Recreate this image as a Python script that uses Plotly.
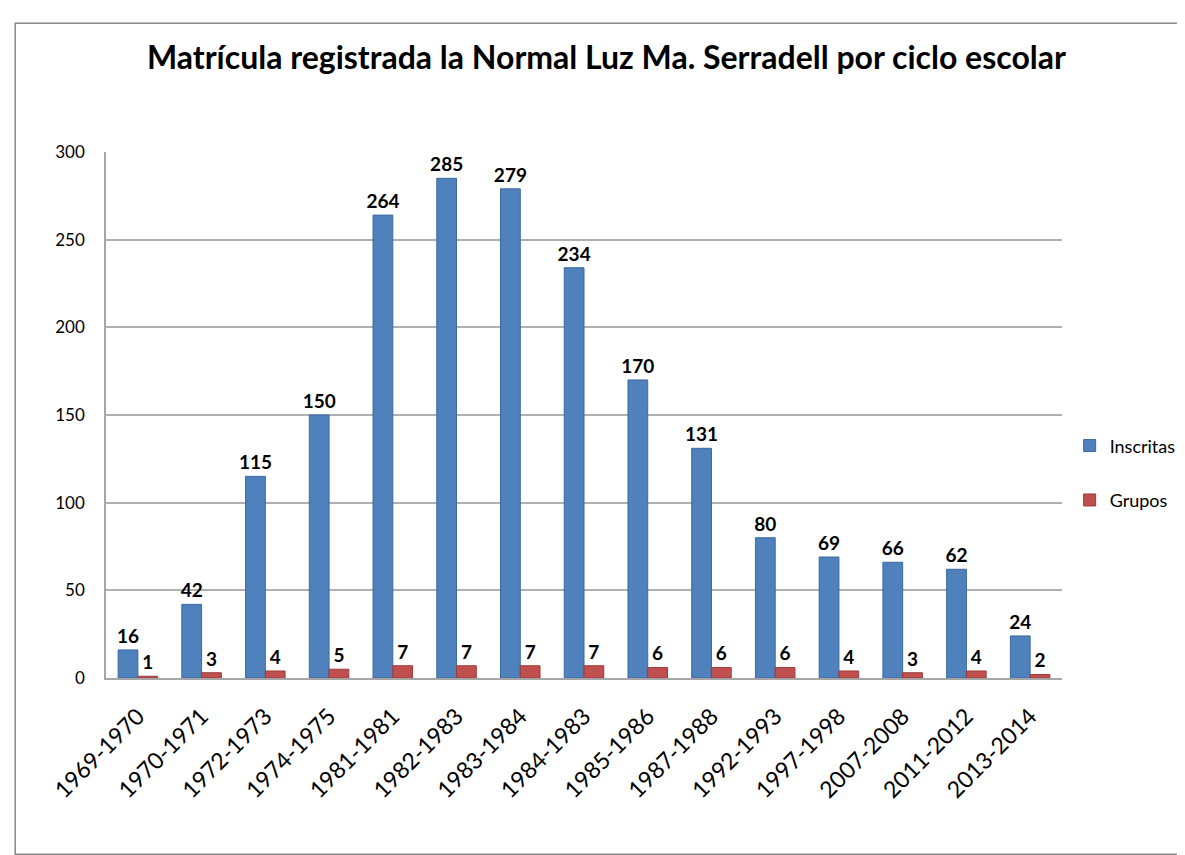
import plotly.graph_objects as go

# ciclos escolares y valores
ciclos = ['1969-1970', '1970-1971', '1972-1973', '1974-1975', '1981-1981',
          '1982-1983', '1983-1984', '1984-1983', '1985-1986', '1987-1988',
          '1992-1993', '1997-1998', '2007-2008', '2011-2012', '2013-2014']
inscritas = [16, 42, 115, 150, 264, 285, 279, 234, 170, 131, 80, 69, 66, 62, 24]
grupos = [1, 3, 4, 5, 7, 7, 7, 7, 6, 6, 6, 4, 3, 4, 2]
yticks = [0, 50, 100, 150, 200, 250, 300]

fuente = "Lato, sans-serif"

fig = go.Figure()
fig.add_trace(go.Bar(x=ciclos, y=inscritas, name='Inscritas', legendgroup='a',
                     marker=dict(color='#4F81BD', line=dict(color='#3B69A0', width=1)),
                     text=inscritas, textposition='outside', cliponaxis=False, constraintext='none',
                     textfont=dict(size=19, color='black', family=fuente, weight='bold')))
fig.add_trace(go.Bar(x=ciclos, y=grupos, name='Grupos', legendgroup='b',
                     marker=dict(color='#C0504D', line=dict(color='#9E3B38', width=1)),
                     text=grupos, textposition='outside', cliponaxis=False, constraintext='none',
                     textfont=dict(size=19, color='black', family=fuente, weight='bold')))

fig.update_layout(
    width=1185, height=855,
    paper_bgcolor='white', plot_bgcolor='white',
    barmode='group', bargap=0.38, bargroupgap=0.0,
    margin=dict(l=98, r=115, t=144, b=185),
    title=dict(text='<b>Matrícula registrada la Normal Luz Ma. Serradell por ciclo escolar</b>',
               x=0.505, xanchor='center', y=0.942, yanchor='middle',
               font=dict(size=32, color='black', family=fuente)),
    legend=dict(x=1.008, xanchor='left', y=0.39, yanchor='middle',
                font=dict(size=18, color='black', family=fuente),
                tracegroupgap=28, bgcolor='rgba(0,0,0,0)'),
    font=dict(family=fuente, color='black'),
    showlegend=True,
)
fig.update_yaxes(range=[0, 300], tickvals=yticks, showgrid=True, gridcolor='#B0B0B0',
                 gridwidth=1.5, showline=True, linecolor='#A6A6A6', linewidth=1.5,
                 ticks='', tickfont=dict(size=17, family=fuente),
                 ticklabelstandoff=16, zeroline=False)
fig.update_xaxes(tickangle=-45, tickfont=dict(size=23, family=fuente),
                 showline=True, linecolor='#A6A6A6', linewidth=1.5, ticks='',
                 ticklabelstandoff=14)

# marco del grafico
fig.add_shape(type='rect', xref='paper', yref='paper', x0=-0.095, x1=1.2, y0=-0.335, y1=1.245,
              line=dict(color='#888888', width=1.5), fillcolor='rgba(0,0,0,0)', layer='below')

fig.write_html("out.html")
